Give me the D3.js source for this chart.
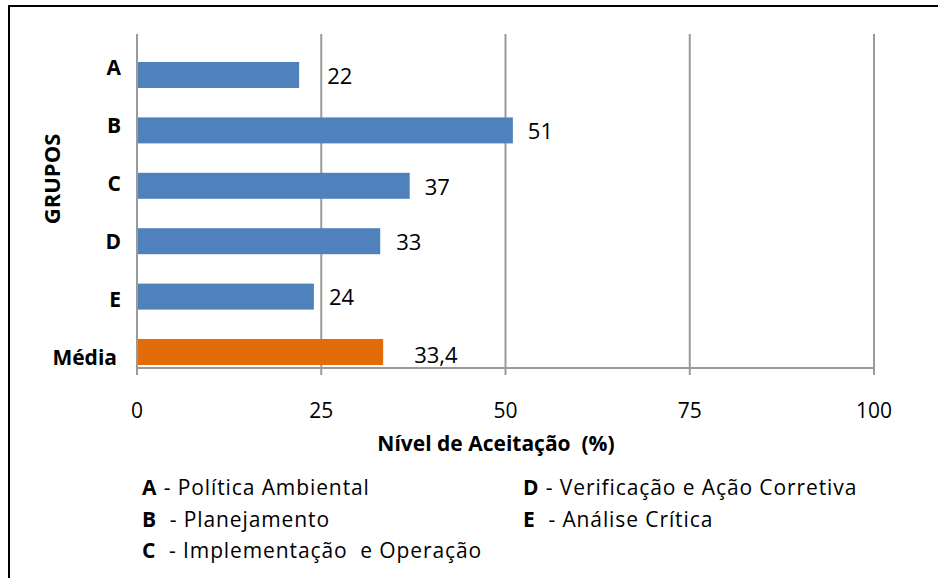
<!DOCTYPE html>
<html><head><meta charset="utf-8">
<script src="https://cdn.jsdelivr.net/npm/d3@7"></script>
<style>body{margin:0;background:#fff}svg{display:block}text{font-family:"Open Sans",sans-serif}</style>
</head><body><svg id="c" width="938" height="578"></svg>
<script>
const categories = ["A","B","C","D","E","Média"];
const values = [22,51,37,33,24,33.4];
const valueLabels = ["22","51","37","33","24","33,4"];
const xTicks = [0,25,50,75,100];
const legendLeft = [["A","- Política Ambiental"],["B"," - Planejamento"],["C"," - Implementação  e Operação"]];
const legendRight = [["D","- Verificação e Ação Corretiva"],["E"," - Análise Crítica"]];

(function(){
// layout
const labelOffsets = [29,16,16,17,16,32];
const svg = d3.select("#c");
svg.append("rect").attr("x",9).attr("y",6).attr("width",945).attr("height",590)
  .attr("fill","#fff").attr("stroke","#000").attr("stroke-width",2);

const x = d3.scaleLinear().domain([0,100]).range([137,874]);
const yBar = d3.scalePoint().domain(categories).range([75,352]);
const yLab = d3.scalePoint().domain(categories).range([69,359]);
const plotTop = 34, plotBottom = 368, barH = 26;

// gridlines
svg.append("g").selectAll("line").data(xTicks).join("line")
  .attr("x1",d=>x(d)).attr("x2",d=>x(d)).attr("y1",plotTop).attr("y2",plotBottom+7)
  .attr("stroke","#9a9a9a").attr("stroke-width",2);
svg.append("line").attr("x1",x(0)).attr("x2",x(100)).attr("y1",plotBottom).attr("y2",plotBottom)
  .attr("stroke","#9a9a9a").attr("stroke-width",2);

// bars
svg.append("g").selectAll("rect").data(categories).join("rect")
  .attr("x",x(0)+1).attr("y",c=>yBar(c)-barH/2)
  .attr("width",(c,i)=>x(values[i])-x(0)-1).attr("height",barH)
  .attr("fill",(c,i)=>c==="Média"?"#E36C0A":"#4F81BD");

// value labels
svg.append("g").selectAll("text").data(categories).join("text")
  .attr("x",(c,i)=>x(values[i])+labelOffsets[i]-1).attr("y",(c,i)=>yBar(c)+3+(c==="Média"?2:0))
  .attr("dominant-baseline","middle").attr("font-size",22).attr("fill","#000")
  .text((c,i)=>valueLabels[i]);

// category labels
svg.append("g").selectAll("text").data(categories).join("text")
  .attr("x",c=>c==="Média"?117:121).attr("y",c=>yLab(c))
  .attr("text-anchor","end").attr("dominant-baseline","middle")
  .attr("font-size",21).attr("font-weight","bold").text(c=>c);

// x tick labels
svg.append("g").selectAll("text").data(xTicks).join("text")
  .attr("x",d=>x(d)).attr("y",412).attr("text-anchor","middle").attr("dominant-baseline","middle")
  .attr("font-size",21).text(d=>d);

// axis titles
svg.append("text").attr("x",496).attr("y",445).attr("text-anchor","middle").attr("dominant-baseline","middle")
  .attr("font-size",21).attr("font-weight","bold").style("white-space","pre").text("Nível de Aceitação  (%)");
svg.append("text").attr("transform","translate(54,179) rotate(-90)").attr("text-anchor","middle")
  .attr("dominant-baseline","middle").attr("font-size",22).attr("font-weight","bold").text("GRUPOS");

// legend
function legend(items, lx, y0){
  items.forEach((it,i)=>{
    const t = svg.append("text").attr("x",lx).attr("y",y0+i*31.5).attr("dominant-baseline","middle")
      .attr("font-size",21).attr("letter-spacing",0.9);
    t.append("tspan").attr("font-weight","bold").text(it[0]);
    t.append("tspan").style("white-space","pre").text(" "+it[1]);
  });
}
legend(legendLeft,142,489);
legend(legendRight,523,489);
})();
</script></body></html>
